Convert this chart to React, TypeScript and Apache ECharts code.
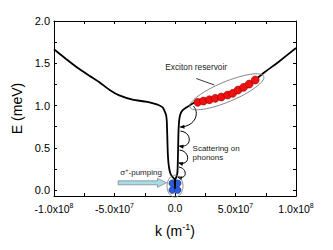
import { useEffect, useRef } from "react";
import * as echarts from "echarts";

// Lower polariton dispersion (k in m^-1, E in meV)
const kCurve = [
  -1e8, -9e7, -8e7, -7e7, -6.2e7, -5.4e7, -4.6e7, -3.5e7, -2.4e7, -1.8e7, -1.28e7, -1e7, -8.6e6, -7.4e6, -6.8e6,
  -6.4e6, -6.0e6, -5.4e6, -4.6e6, -3.6e6, -2.4e6, -1.0e6, -2e5, 0, 2e5, 1.0e6, 1.8e6, 2.2e6, 2.5e6, 2.8e6, 3.2e6,
  3.8e6, 4.8e6, 6.4e6, 9e6, 1.2e7, 1.6e7, 2.5e7, 3.5e7, 4.5e7, 5.5e7, 6.5e7, 7.5e7, 8.5e7, 1e8,
];
const eCurve = [
  1.665, 1.55, 1.44, 1.345, 1.27, 1.185, 1.12, 1.07, 1.045, 1.025, 1.0, 0.975, 0.935, 0.89, 0.82,
  0.65, 0.45, 0.32, 0.24, 0.19, 0.16, 0.14, 0.12, 0.02, 0.12, 0.15, 0.19, 0.26, 0.45, 0.65, 0.78,
  0.86, 0.91, 0.945, 0.975, 1.0, 1.035, 1.058, 1.09, 1.13, 1.2, 1.29, 1.405, 1.51, 1.68,
];

// Exciton reservoir (red dots)
const reservoirK = [1.88e7, 2.35e7, 2.84e7, 3.33e7, 3.83e7, 4.35e7, 4.77e7, 5.21e7, 5.67e7, 6.13e7, 6.63e7];
const reservoirE = [1.038, 1.053, 1.069, 1.085, 1.101, 1.124, 1.144, 1.183, 1.215, 1.254, 1.302];

// Condensate (blue dots)
const condensateK = [-2.2e6, 2.2e6, -2.2e6, 2.2e6];
const condensateE = [0.08, 0.08, 0.0, 0.0];

// Axis ticks / labels
const xTicks = [-1e8, -7.5e7, -5e7, -2.5e7, 0, 2.5e7, 5e7, 7.5e7, 1e8];
const xLabelValues = [-1e8, -5e7, 0, 5e7, 1e8];
const xLabelTexts = ["-1.0x10{s|8}", "-5.0x10{s|7}", "0.0", "5.0x10{s|7}", "1.0x10{s|8}"];
const yTicks = [0, 0.25, 0.5, 0.75, 1.0, 1.25, 1.5, 1.75, 2.0];
const yLabelValues = [0, 0.5, 1.0, 1.5, 2.0];

// Scattering arrows: [kStart, eStart, kC1, eC1, kC2, eC2, kEnd, eEnd]
const scatterArcs = [
  [1.52e7, 0.994, 2.02e7, 0.923, 1.77e7, 0.757, 4.5e6, 0.746],
  [4.5e6, 0.698, 1.44e7, 0.686, 1.44e7, 0.497, 3.7e6, 0.521],
  [3.7e6, 0.473, 1.28e7, 0.462, 1.28e7, 0.284, 3.3e6, 0.32],
  [3.3e6, 0.272, 1.03e7, 0.26, 1.03e7, 0.118, 2.5e6, 0.154],
];

const FONT = "Liberation Sans, Arial, Helvetica, sans-serif";

export default function App() {
  const ref = useRef<HTMLDivElement>(null);

  useEffect(() => {
    if (!ref.current) return;
    const chart = echarts.init(ref.current, null, { renderer: "svg" });

    const tickStyle = { show: true, inside: true, length: 3, lineStyle: { color: "#000", width: 1 } };
    const lineStyle = { show: true, onZero: false, lineStyle: { color: "#000", width: 1 } };

    chart.setOption({
      animation: false,
      backgroundColor: "#fff",
      textStyle: { fontFamily: FONT },
      grid: { left: 54, right: 37, top: 21, bottom: 54 },
      xAxis: [
        {
          type: "value",
          min: -1e8,
          max: 1e8,
          position: "bottom",
          axisLine: lineStyle,
          axisTick: { ...tickStyle, customValues: xTicks },
          splitLine: { show: false },
          axisLabel: {
            customValues: xLabelValues,
            margin: 6,
            color: "#000",
            fontSize: 10.5,
            fontFamily: FONT,
            formatter: (v: number) => {
              const i = xLabelValues.findIndex((x) => Math.abs(x - v) < 1);
              return i >= 0 ? xLabelTexts[i] : "";
            },
            rich: {
              s: { fontSize: 7, fontFamily: FONT, color: "#000", verticalAlign: "bottom", padding: [0, 0, 6, 0] },
            },
          },
          name: "k (m{s|-1})",
          nameLocation: "middle",
          nameGap: 26,
          nameTextStyle: {
            fontSize: 14,
            color: "#000",
            fontFamily: FONT,
            rich: { s: { fontSize: 9, fontFamily: FONT, color: "#000", verticalAlign: "bottom", padding: [0, 0, 8, 0] } },
          },
        },
        {
          type: "value",
          min: -1e8,
          max: 1e8,
          position: "top",
          axisLine: lineStyle,
          axisTick: { ...tickStyle, customValues: xTicks },
          splitLine: { show: false },
          axisLabel: { show: false },
        },
      ],
      yAxis: [
        {
          type: "value",
          min: -0.07,
          max: 2.0,
          position: "left",
          axisLine: lineStyle,
          axisTick: { ...tickStyle, customValues: yTicks },
          splitLine: { show: false },
          axisLabel: {
            customValues: yLabelValues,
            margin: 4,
            color: "#000",
            fontSize: 11,
            fontFamily: FONT,
            formatter: (v: number) => v.toFixed(1),
          },
          name: "E (meV)",
          nameLocation: "middle",
          nameRotate: 90,
          nameGap: 22,
          nameTextStyle: { fontSize: 14, color: "#000", fontFamily: FONT },
        },
        {
          type: "value",
          min: -0.07,
          max: 2.0,
          position: "right",
          axisLine: lineStyle,
          axisTick: { ...tickStyle, customValues: yTicks },
          splitLine: { show: false },
          axisLabel: { show: false },
        },
      ],
      series: [
        {
          type: "line",
          data: kCurve.map((k, i) => [k, eCurve[i]]),
          showSymbol: false,
          symbol: "none",
          smooth: 0.15,
          lineStyle: { color: "#000", width: 1.8 },
          z: 2,
        },
        {
          type: "scatter",
          data: reservoirK.map((k, i) => [k, reservoirE[i]]),
          symbolSize: 8,
          itemStyle: { color: "#f01010", borderColor: "#700", borderWidth: 0.5, opacity: 1 },
          z: 4,
        },
        {
          type: "scatter",
          data: condensateK.map((k, i) => [k, condensateE[i]]),
          symbolSize: 7,
          itemStyle: { color: "#2a5ae0", borderColor: "#123", borderWidth: 0.4, opacity: 1 },
          z: 1,
        },
      ],
    });

    const px = (k: number, e: number) =>
      chart.convertToPixel({ xAxisIndex: 0, yAxisIndex: 0 }, [k, e]) as number[];

    const graphics: any[] = [];

    // Reservoir ellipse
    const rc = px(4.28e7, 1.163);
    graphics.push({
      type: "ellipse",
      x: rc[0],
      y: rc[1],
      rotation: 0.396,
      shape: { cx: 0, cy: 0, rx: 40, ry: 10 },
      style: { fill: "none", stroke: "#777", lineWidth: 0.8 },
      z: 10,
    });
    // Condensate ellipse
    const cc = px(0, 0.047);
    graphics.push({
      type: "ellipse",
      shape: { cx: cc[0], cy: cc[1], rx: 8, ry: 11 },
      style: { fill: "none", stroke: "#777", lineWidth: 0.8 },
      z: 10,
    });

    // Exciton reservoir label + pointer
    const lt = px(1.75e7, 1.45);
    graphics.push({
      type: "text",
      x: lt[0],
      y: lt[1],
      style: { text: "Exciton reservoir", fontSize: 8.3, fontFamily: FONT, fill: "#222", align: "center", verticalAlign: "middle" },
      z: 10,
    });
    const p1 = px(1.75e7, 1.32);
    const p2 = px(3.25e7, 1.243);
    graphics.push({
      type: "line",
      shape: { x1: p1[0], y1: p1[1], x2: p2[0], y2: p2[1] },
      style: { stroke: "#222", lineWidth: 0.9 },
      z: 10,
    });

    // Scattering label
    const st = px(1.45e7, 0.44);
    graphics.push({
      type: "text",
      x: st[0],
      y: st[1],
      style: {
        text: "Scattering on\nphonons",
        fontSize: 8,
        lineHeight: 9.5,
        fontFamily: FONT,
        fill: "#222",
        align: "left",
        verticalAlign: "middle",
      },
      z: 10,
    });

    // Scattering arrows
    scatterArcs.forEach((a) => {
      const s = px(a[0], a[1]);
      const c1 = px(a[2], a[3]);
      const c2 = px(a[4], a[5]);
      const e = px(a[6], a[7]);
      graphics.push({
        type: "bezierCurve",
        shape: { x1: s[0], y1: s[1], cpx1: c1[0], cpy1: c1[1], cpx2: c2[0], cpy2: c2[1], x2: e[0], y2: e[1] },
        style: { stroke: "#000", lineWidth: 1, fill: "none" },
        z: 9,
      });
      const dx = e[0] - c2[0];
      const dy = e[1] - c2[1];
      const len = Math.hypot(dx, dy) || 1;
      const ux = dx / len;
      const uy = dy / len;
      const hl = 4;
      const hw = 2;
      graphics.push({
        type: "polygon",
        shape: {
          points: [
            [e[0] + ux * 1, e[1] + uy * 1],
            [e[0] - ux * hl - uy * hw, e[1] - uy * hl + ux * hw],
            [e[0] - ux * hl + uy * hw, e[1] - uy * hl - ux * hw],
          ],
        },
        style: { fill: "#000" },
        z: 9,
      });
    });

    // Pumping arrow
    const a0 = px(-4.7e7, 0.086);
    const a1 = px(-7e6, 0.086);
    const headL = 9;
    const sh = 2;
    const hh = 4.5;
    graphics.push({
      type: "polygon",
      shape: {
        points: [
          [a0[0], a0[1] - sh],
          [a1[0] - headL, a0[1] - sh],
          [a1[0] - headL, a0[1] - hh],
          [a1[0], a0[1]],
          [a1[0] - headL, a0[1] + hh],
          [a1[0] - headL, a0[1] + sh],
          [a0[0], a0[1] + sh],
        ],
      },
      style: { fill: "#a9dde6", stroke: "#667", lineWidth: 0.6 },
      z: 10,
    });
    const pt = px(-2.8e7, 0.21);
    graphics.push({
      type: "text",
      x: pt[0],
      y: pt[1],
      style: {
        text: "σ{s|+}-pumping",
        fontSize: 8,
        fontFamily: FONT,
        fill: "#222",
        align: "center",
        verticalAlign: "middle",
        rich: { s: { fontSize: 5.5, fontFamily: FONT, fill: "#222", verticalAlign: "bottom", padding: [0, 0, 4, 0] } },
      },
      z: 10,
    });

    chart.setOption({ graphic: graphics });

    return () => chart.dispose();
  }, []);

  return <div ref={ref} style={{ position: "fixed", left: 0, top: 0, width: 333, height: 250 }} />;
}
